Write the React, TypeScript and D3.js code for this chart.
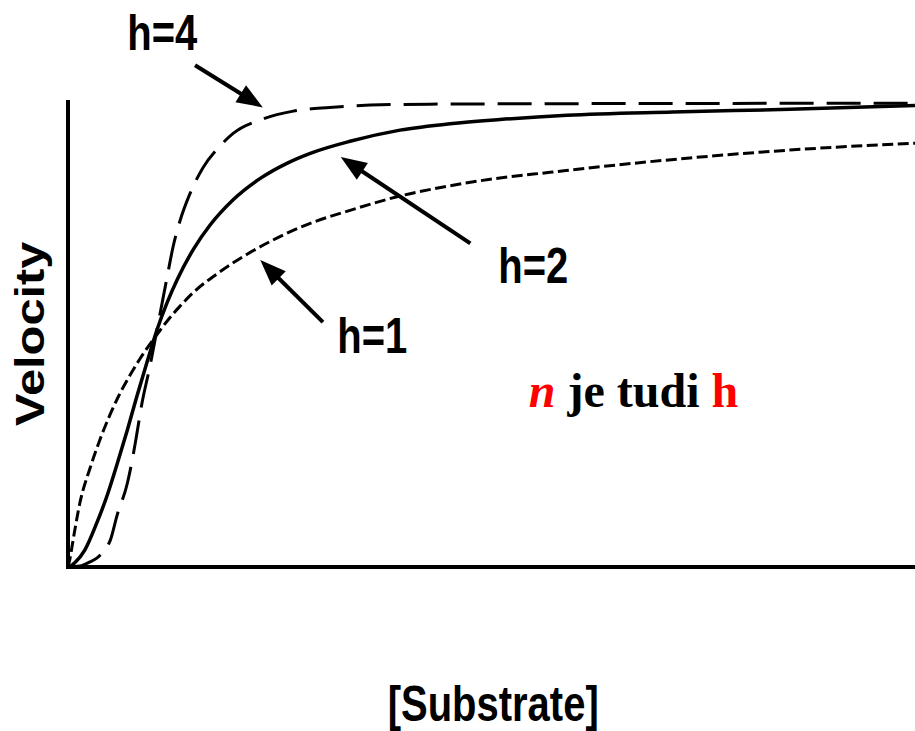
import React from "react";
import * as d3 from "d3";

// Hill curves: [substrate, relative velocity]
const hill1: [number, number][] = [
  [0, 0], [0.02, 0.015], [0.06, 0.058], [0.14, 0.138], [0.26, 0.213], [0.38, 0.276],
  [0.5, 0.33], [0.61, 0.373], [0.73, 0.413], [0.85, 0.449], [0.97, 0.481],
  [1.09, 0.511], [1.2, 0.537], [1.32, 0.562], [1.48, 0.592], [1.79, 0.636],
  [2.11, 0.674], [2.42, 0.705], [2.86, 0.741], [3.33, 0.769], [3.92, 0.8],
  [4.51, 0.822], [5.1, 0.839], [5.69, 0.851], [6.28, 0.863], [7.34, 0.882],
  [8.52, 0.899], [10, 0.914],
];

const hill2: [number, number][] = [
  [0.02, 0], [0.08, 0.009], [0.2, 0.037], [0.34, 0.095], [0.46, 0.153], [0.58, 0.222],
  [0.7, 0.295], [0.81, 0.366], [0.93, 0.44], [1.05, 0.511], [1.17, 0.57],
  [1.29, 0.62], [1.48, 0.685], [1.68, 0.738], [1.95, 0.792], [2.27, 0.838],
  [2.59, 0.871], [2.86, 0.892], [3.33, 0.918], [3.92, 0.942], [4.51, 0.956],
  [5.1, 0.965], [5.89, 0.974], [7.14, 0.981], [8.52, 0.987], [10, 0.995],
];

const hill4: [number, number][] = [
  [0.02, 0], [0.14, 0.002], [0.26, 0.011], [0.34, 0.019], [0.43, 0.037], [0.5, 0.058],
  [0.58, 0.112], [0.7, 0.18], [0.76, 0.232], [0.81, 0.284], [0.87, 0.35],
  [0.97, 0.435], [1.05, 0.511], [1.17, 0.625], [1.24, 0.69], [1.32, 0.745],
  [1.44, 0.805], [1.59, 0.86], [1.79, 0.907], [1.95, 0.935], [2.3, 0.966],
  [2.66, 0.983], [3.09, 0.991], [3.57, 0.996], [4.27, 0.998], [5.69, 0.999],
  [10, 1.0],
];

const seriesNames = ["h=1", "h=2", "h=4"];
const seriesDashes = ["11 4.5", "", "34 13"];
const seriesWidths = [3, 3.5, 3];

// Label anchor (left, baseline), arrow tail and arrow tip, in data units
const labelPos: [number, number][] = [[3.18, 0.461], [5.08, 0.612], [0.7, 1.114]];
const arrowTail: [number, number][] = [[3.01, 0.528], [4.75, 0.698], [1.5, 1.082]];
const arrowTip: [number, number][] = [[2.27, 0.662], [3.22, 0.884], [2.3, 0.991]];

const xLabel = "[Substrate]";
const yLabel = "Velocity";

const W = 915;
const H = 731;

export default function App() {
  const x = d3.scaleLinear().domain([0, 10]).range([68, 915]);
  const y = d3.scaleLinear().domain([0, 1.007]).range([567, 100]);

  const line = d3
    .line<[number, number]>()
    .x((d) => x(d[0]))
    .y((d) => y(d[1]))
    .curve(d3.curveMonotoneX);

  const series = [hill1, hill2, hill4];
  const sans = "'Liberation Sans', Arial, Helvetica, sans-serif";
  const stretch = 1.26;

  const arrow = (i: number) => {
    const [tx, ty] = [x(arrowTip[i][0]), y(arrowTip[i][1])];
    const [sx, sy] = [x(arrowTail[i][0]), y(arrowTail[i][1])];
    const ang = Math.atan2(ty - sy, tx - sx);
    const len = 26;
    const hw = 10;
    const bx = tx - len * Math.cos(ang);
    const by = ty - len * Math.sin(ang);
    const px = -Math.sin(ang);
    const py = Math.cos(ang);
    const head = `M${tx},${ty}L${bx + px * hw},${by + py * hw}L${bx - px * hw},${by - py * hw}Z`;
    return (
      <g key={`arrow-${i}`}>
        <line x1={sx} y1={sy} x2={bx + 4 * Math.cos(ang)} y2={by + 4 * Math.sin(ang)} stroke="#000" strokeWidth={4} />
        <path d={head} fill="#000" />
      </g>
    );
  };

  return (
    <svg
      width={W}
      height={H}
      viewBox={`0 0 ${W} ${H}`}
      style={{ position: "absolute", left: 0, top: 0, background: "#fff" }}
    >
      <rect x={0} y={0} width={W} height={H} fill="#fff" />

      {/* axes */}
      <line x1={x(0)} y1={y(1.007)} x2={x(0)} y2={y(0) + 2} stroke="#000" strokeWidth={4} />
      <line x1={x(0) - 2} y1={y(0)} x2={x(10)} y2={y(0)} stroke="#000" strokeWidth={4} />

      {/* curves */}
      {series.map((s, i) => (
        <path
          key={seriesNames[i]}
          d={line(s) || ""}
          fill="none"
          stroke="#000"
          strokeWidth={seriesWidths[i]}
          strokeDasharray={seriesDashes[i] || undefined}
        />
      ))}

      {/* annotations */}
      {seriesNames.map((_, i) => arrow(i))}
      {seriesNames.map((name, i) => (
        <text
          key={`lbl-${name}`}
          transform={`translate(${x(labelPos[i][0])},${y(labelPos[i][1])}) scale(1,${stretch})`}
          fontFamily={sans}
          fontWeight="bold"
          fontSize={40}
          fill="#000"
        >
          {name}
        </text>
      ))}

      {/* axis titles */}
      <text
        transform={`translate(${x(5.02)},721) scale(1,${stretch})`}
        textAnchor="middle"
        fontFamily={sans}
        fontWeight="bold"
        fontSize={40}
        fill="#000"
      >
        {xLabel}
      </text>
      <text
        transform={`translate(43.5,${y(0.503)}) scale(1,1.22) rotate(-90)`}
        textAnchor="middle"
        fontFamily={sans}
        fontWeight="bold"
        fontSize={40}
        fill="#000"
      >
        {yLabel}
      </text>

      {/* note */}
      <text
        x={x(5.44)}
        y={y(0.345)}
        fontFamily="'Liberation Serif', 'Times New Roman', serif"
        fontWeight="bold"
        fontSize={48}
        fill="#000"
      >
        <tspan fill="#ff0000" fontStyle="italic">n</tspan>
        <tspan> je tudi </tspan>
        <tspan fill="#ff0000">h</tspan>
      </text>
    </svg>
  );
}
